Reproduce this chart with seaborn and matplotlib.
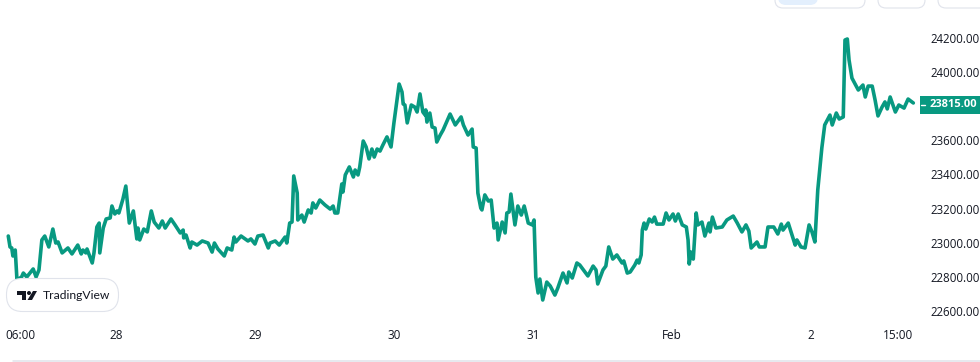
import matplotlib
matplotlib.use("Agg")
import matplotlib.pyplot as plt
import matplotlib.transforms as mtrans
from matplotlib.patches import FancyBboxPatch, Polygon, Circle, Rectangle
import pandas as pd
import seaborn as sns

# hours since 27 Jan 00:00
hours = [5.4, 5.7, 6.0, 6.2, 6.6, 6.7, 6.9, 7.7, 8, 8.6, 9.7, 10.2, 10.7, 11.2, 11.7, 12.4, 13.1, 13.6, 14, 14.7,
         15.7, 16.4, 17.4, 18, 18.3, 18.8, 19, 19.9, 20.2, 20.7, 21.1, 21.2, 21.8, 22.3, 23, 23.3, 23.8, 24.2, 24.5, 25.2,
         25.7, 26.3, 27, 27.6, 27.8, 28.1, 28.8, 29.4, 30.1, 30.6, 31.4, 32, 32.5, 33.5, 34.2, 35.1, 35.6, 35.7, 36.1, 36.8,
         37.1, 38, 38.9, 39.9, 40.6, 41, 41.6, 42.7, 43.2, 44, 44.4, 44.7, 45.6, 46.8, 47.3, 48, 48.5, 49.4, 50.3, 50.6,
         51.5, 52.2, 53.2, 53.5, 54, 54.4, 54.7, 55.3, 55.4, 56.1, 56.5, 57.2, 57.7, 58, 58.5, 59.2, 60.1, 61, 61.5, 61.8,
         62.3, 63, 63.2, 63.6, 64.3, 65, 65.3, 65.8, 66.1, 66.7, 67.2, 67.7, 68.2, 68.6, 69.1, 69.6, 70.1, 70.8, 71.5, 72,
         72.9, 73.4, 73.6, 73.9, 74.3, 75, 75.6, 76, 76.5, 77, 77.4, 77.5, 77.7, 78.2, 78.6, 79.1, 79.4, 80, 80.5, 81.7,
         82.6, 83.6, 84, 84.8, 85.5, 85.7, 86.2, 86.5, 87, 87.2, 87.7, 88.3, 88.8, 89.3, 89.8, 90, 90.7, 91.2, 91.5, 91.9,
         92.2, 92.9, 93.4, 94, 94.5, 94.8, 95.2, 95.9, 96.2, 96.5, 96.9, 97.2, 97.7, 98.4, 99, 99.8, 100.3, 101.2, 101.9, 102.2,
         102.8, 103.6, 104.1, 105.5, 106.4, 106.9, 107.2, 108.1, 108.6, 109.1, 109.8, 110.5, 111.4, 111.7, 112.3, 112.8, 113.6, 114, 114.3, 114.7,
         114.9, 115.2, 115.5, 116.1, 116.6, 117, 117.4, 118.5, 119, 119.5, 120.2, 120.6, 121.1, 121.8, 122.5, 122.8, 123, 123.3, 123.7, 124.2,
         124.5, 125.2, 125.7, 126.4, 126.6, 127, 127.6, 128.7, 129.5, 130.6, 131.3, 132.1, 132.8, 133.3, 133.7, 134.7, 135.1, 136.1, 136.6, 137.6,
         138.3, 138.9, 139.2, 140.1, 141.3, 141.6, 142.3, 143, 143.7, 144.2, 144.7, 145.2, 145.9, 146.4, 147.3, 147.7, 148.4, 148.9, 149.6, 149.9,
         150.3, 150.6, 151.1, 152.2, 153, 153.4, 153.9, 154.6, 155.1, 155.6, 156.3, 156.8, 157.2, 157.7, 158.6, 159.2, 160.1, 160.8, 161.7]

prices = [23045, 22981, 22975, 22928, 22963, 22904, 22787, 22805, 22828, 22805, 22852, 22805, 22846, 23022, 23045, 22981, 23086, 23004, 23010, 22946,
          22975, 22940, 22992, 22940, 22963, 22946, 22969, 22887, 22946, 23098, 23121, 22946, 23092, 23145, 23151, 23221, 23174, 23192, 23180, 23262,
          23338, 23121, 23192, 23028, 23092, 23022, 23086, 23069, 23192, 23127, 23092, 23133, 23092, 23145, 23110, 23063, 23080, 23034, 23051, 22975,
          23010, 22992, 23016, 23004, 22951, 23004, 22969, 22928, 22975, 22963, 23039, 23010, 23045, 23016, 23028, 22998, 23045, 23051, 22975, 23004,
          23016, 22992, 23039, 23004, 23121, 23127, 23397, 23297, 23139, 23168, 23127, 23198, 23180, 23239, 23209, 23256, 23227, 23203, 23221, 23180,
          23180, 23350, 23303, 23403, 23450, 23391, 23432, 23403, 23450, 23602, 23567, 23497, 23555, 23508, 23555, 23543, 23579, 23626, 23567, 23708,
          23936, 23889, 23819, 23813, 23708, 23813, 23801, 23772, 23878, 23772, 23754, 23784, 23713, 23766, 23684, 23678, 23596, 23637, 23667, 23760,
          23696, 23743, 23696, 23637, 23672, 23567, 23561, 23297, 23209, 23198, 23286, 23250, 23256, 23092, 23121, 23022, 23127, 23063, 23180, 23186,
          23291, 23110, 23221, 23168, 23221, 23180, 23121, 23110, 23139, 22805, 22711, 22793, 22670, 22775, 22752, 22699, 22740, 22828, 22770, 22834,
          22799, 22887, 22875, 22811, 22869, 22846, 22764, 22846, 22869, 22981, 22910, 22934, 22887, 22899, 22828, 22834, 22875, 22904, 22887, 22934,
          23080, 23121, 23086, 23145, 23127, 23156, 23115, 23115, 23180, 23139, 23174, 23133, 23174, 23110, 23098, 23022, 22881, 22951, 22910, 23180,
          23110, 23127, 23045, 23121, 23069, 23156, 23092, 23098, 23139, 23162, 23121, 23069, 23110, 23074, 22975, 23010, 22981, 22981, 23098, 23098,
          23057, 23115, 23080, 23121, 22992, 23022, 22981, 22975, 23110, 23069, 23010, 23315, 23561, 23696, 23754, 23696, 23766, 23731, 23743, 24194,
          24200, 24077, 23971, 23901, 23930, 23860, 23924, 23924, 23842, 23749, 23801, 23831, 23790, 23860, 23772, 23813, 23795, 23848, 23825]

last_price = 23815
y_ticks = [22600, 22800, 23000, 23200, 23400, 23600, 24000, 24200]
x_ticks = [6, 24, 48, 72, 96, 120, 144, 159]
x_labels = ["06:00", "28", "29", "30", "31", "Feb", "2", "15:00"]

green = "#089981"
text_col = "#131722"

sns.set_style("white")
plt.rcParams['font.family'] = ['Open Sans', 'DejaVu Sans']

W, H = 980, 362
fig = plt.figure(figsize=(W / 100, H / 100), dpi=100)
ax = fig.add_axes([0, (H - 325) / H, 922 / W, 325 / H])

df = pd.DataFrame({"hours": hours, "price": prices})
sns.lineplot(data=df, x="hours", y="price", sort=False, estimator=None, color=green,
             linewidth=2.6, ax=ax, solid_joinstyle="round")

ax.set_xlim(3.97, 163.2)
ax.set_ylim(24428.6 - 5.862 * 325, 24428.6)
ax.set_xlabel("")
ax.set_ylabel("")
ax.set_xticks(x_ticks)
ax.set_xticklabels(x_labels)
ax.set_yticks(y_ticks)
ax.set_yticklabels([f"{v:.2f}" for v in y_ticks])
ax.yaxis.tick_right()
ax.tick_params(axis="x", length=0, pad=3, labelsize=8.5, labelcolor=text_col)
ax.tick_params(axis="y", length=0, pad=6, labelsize=8.3, labelcolor=text_col)
# first label is pushed inside the chart, like the original
first = ax.get_xticklabels()[0]
first.set_transform(first.get_transform() + mtrans.ScaledTranslation(9 / 100, 0, fig.dpi_scale_trans))
for lab in ax.get_yticklabels():
    lab.set_transform(lab.get_transform() + mtrans.ScaledTranslation(0, 1 / 100, fig.dpi_scale_trans))
sns.despine(ax=ax, left=True, bottom=True, right=True, top=True)

# current price tag
tr = mtrans.blended_transform_factory(ax.transAxes, ax.transData)
ax.add_patch(Rectangle((920 / 922, last_price - 53), 60 / 922, 106, transform=tr, color=green,
                       clip_on=False, lw=0, zorder=5))
ax.plot([921 / 922, 925 / 922], [last_price, last_price], transform=tr, color="white", lw=1,
        clip_on=False, zorder=6)
ax.text(977 / 922, last_price, f"{last_price:.2f}", transform=tr, color="white", fontsize=8,
        fontweight="bold", ha="right", va="center", clip_on=False, zorder=6)

# page furniture in pixel coordinates
over = fig.add_axes([0, 0, 1, 1], facecolor="none")
over.set_xlim(0, W)
over.set_ylim(H, 0)
over.axis("off")
border = "#e0e3eb"
over.add_patch(FancyBboxPatch((778, -20), 40, 25, boxstyle="round,pad=0,rounding_size=8",
                              fc="#e3effd", ec="none"))
for x0, w in [(775, 90), (878, 47), (938, 70)]:
    over.add_patch(FancyBboxPatch((x0, -20), w, 28, boxstyle="round,pad=0,rounding_size=8",
                                  fc="none", ec=border, lw=0.8))
over.plot([13, 980], [361, 361], color=border, lw=1.1)

# TradingView badge
over.add_patch(FancyBboxPatch((6.5, 278.5), 112, 33, boxstyle="round,pad=0,rounding_size=16",
                              fc="white", ec=border, lw=0.8, zorder=8))
over.add_patch(Polygon([(17, 291), (26, 291), (26, 300), (22, 300), (22, 295), (17, 295)],
                       fc=text_col, ec="none", zorder=9))
over.add_patch(Circle((29, 293), 2, fc=text_col, ec="none", zorder=9))
over.add_patch(Polygon([(33, 291), (37, 291), (32, 300), (27.5, 300)], fc=text_col, ec="none", zorder=9))
over.text(43, 295.5, "TradingView", fontsize=8.7, color=text_col, family=["Lato", "DejaVu Sans"],
          va="center", ha="left", zorder=9)

fig.savefig("out.png", dpi=100, facecolor="white")
